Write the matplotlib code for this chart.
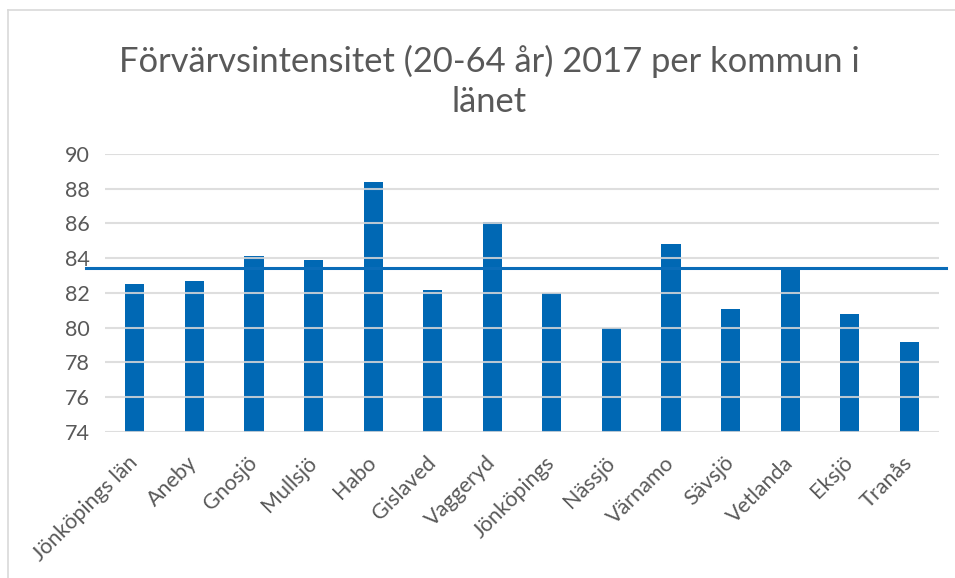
import numpy as np
import matplotlib.pyplot as plt
from matplotlib.lines import Line2D

kommuner = ['Jönköpings län', 'Aneby', 'Gnosjö', 'Mullsjö', 'Habo', 'Gislaved',
            'Vaggeryd', 'Jönköpings', 'Nässjö', 'Värnamo', 'Sävsjö', 'Vetlanda',
            'Eksjö', 'Tranås']
intensitet = [82.5, 82.7, 84.1, 83.9, 88.4, 82.2, 86.1, 82.0, 80.0, 84.8,
              81.1, 83.3, 80.8, 79.2]
referens = 83.45
yticks = [74, 76, 78, 80, 82, 84, 86, 88, 90]

text_color = '#595959'
bar_color = '#0068b4'
grid_color = '#d9d9d9'

plt.rcParams['font.family'] = ['Lato', 'DejaVu Sans']

fig = plt.figure(figsize=(9.55, 5.78), dpi=100)
ax = fig.add_axes([0.110, 0.2526, 0.8733, 0.481])

x = np.arange(len(kommuner))
ax.bar(x, intensitet, width=0.32, color=bar_color, zorder=2)

ax.set_ylim(74, 90)
ax.set_xlim(-0.5, len(kommuner) - 0.5)
ax.set_yticks(yticks)
ax.set_xticks(x)
ax.set_xticklabels(kommuner, rotation=45, ha='right', va='center',
                   rotation_mode='anchor')

# gridlines, drawn above the bars like in the original
for v in yticks:
    ax.axhline(v, color=grid_color, lw=1.5, alpha=0.85, zorder=3)

# reference line, slightly wider than the plot area
ax.plot([-0.023, 1.0084], [referens, referens], color='#0a6cb8', lw=2.2,
        transform=ax.get_yaxis_transform(), clip_on=False, zorder=4)

for s in ax.spines.values():
    s.set_visible(False)
ax.tick_params(axis='both', length=0, colors=text_color)
ax.tick_params(axis='y', pad=11, labelsize=15.5)
ax.tick_params(axis='x', pad=20, labelsize=15.5)

fig.text(0.512, 0.859, 'Förvärvsintensitet (20-64 år) 2017 per kommun i\nlänet',
         ha='center', va='center', fontsize=24.8, color=text_color,
         linespacing=1.3)

# chart area border
fig.add_artist(Line2D([8 / 955, 8 / 955], [0, 1 - 10 / 578], color=grid_color, lw=1.2))
fig.add_artist(Line2D([8 / 955, 1], [1 - 10 / 578, 1 - 10 / 578], color=grid_color, lw=1.2))

fig.savefig('out.png', dpi=100)
